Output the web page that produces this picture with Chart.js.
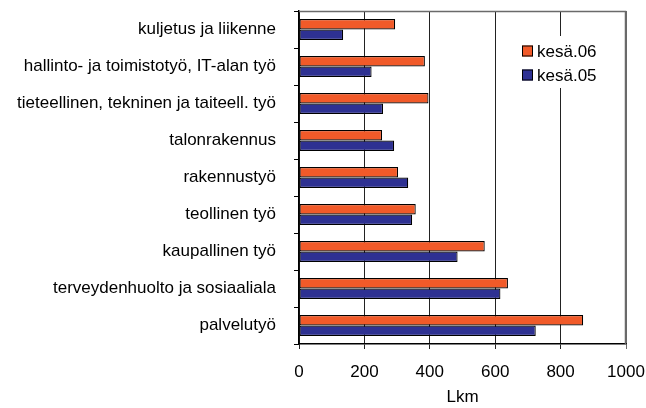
<!DOCTYPE html>
<html>
<head>
<meta charset="utf-8">
<script src="https://cdn.jsdelivr.net/npm/chart.js@4"></script>
<style>
  html, body { margin: 0; padding: 0; background: #fff; }
  #wrap { width: 646px; height: 408px; position: relative; }
</style>
</head>
<body>
<div id="wrap"><canvas id="chart" width="646" height="408"></canvas></div>
<script>
// data
var categories = ['kuljetus ja liikenne', 'hallinto- ja toimistotyö, IT-alan työ',
    'tieteellinen, tekninen ja taiteell. työ', 'talonrakennus', 'rakennustyö',
    'teollinen työ', 'kaupallinen työ', 'terveydenhuolto ja sosiaaliala', 'palvelutyö'];
var series_names = ['kesä.06', 'kesä.05'];
var kesa06 = [294, 385, 396, 254, 303, 357, 568, 639, 869];
var kesa05 = [135, 222, 257, 291, 334, 346, 485, 616, 724];
var x_ticks = [0, 200, 400, 600, 800, 1000];

var orange = '#F15A29';
var blue = '#2E3192';
var font = 'Arial, "Liberation Sans", sans-serif';

// frame on top and right of plot area
var framePlugin = {
    id: 'frame',
    afterDatasetsDraw: function(chart) {
        var a = chart.chartArea, ctx = chart.ctx;
        ctx.save();
        ctx.strokeStyle = '#6a6a6a';
        ctx.lineWidth = 1.5;
        ctx.beginPath();
        ctx.moveTo(a.left, a.top + 0.5);
        ctx.lineTo(a.right - 0.5, a.top + 0.5);
        ctx.lineTo(a.right - 0.5, a.bottom);
        ctx.stroke();
        ctx.restore();
    }
};

// legend sits inside the plot area, like the original
var innerLegend = {
    id: 'innerLegend',
    afterDraw: function(chart) {
        var ctx = chart.ctx;
        var x = 512, y = 36;
        ctx.save();
        ctx.fillStyle = '#fff';
        ctx.fillRect(x, y, 90, 52);
        ctx.font = '17px ' + font;
        ctx.textBaseline = 'middle';
        chart.data.datasets.forEach(function(ds, i) {
            var cy = y + 15 + i * 24;
            ctx.fillStyle = ds.backgroundColor;
            ctx.fillRect(x + 10, cy - 5.5, 11, 11);
            ctx.strokeStyle = '#000';
            ctx.lineWidth = 1;
            ctx.strokeRect(x + 10.5, cy - 5, 10, 10);
            ctx.fillStyle = '#000';
            ctx.fillText(ds.label, x + 25, cy + 1);
        });
        ctx.restore();
    }
};

new Chart(document.getElementById('chart'), {
    type: 'bar',
    data: {
        labels: categories,
        datasets: [
            { label: series_names[0], data: kesa06, backgroundColor: orange },
            { label: series_names[1], data: kesa05, backgroundColor: blue }
        ]
    },
    options: {
        indexAxis: 'y',
        responsive: false,
        animation: false,
        layout: { padding: { top: 11, right: 20, left: 0, bottom: 0 } },
        datasets: {
            bar: {
                borderColor: '#000',
                borderWidth: 1.2,
                borderSkipped: false,
                categoryPercentage: 0.57,
                barPercentage: 1
            }
        },
        plugins: {
            legend: { display: false },
            tooltip: { enabled: false }
        },
        scales: {
            x: {
                min: 0,
                max: 1000,
                afterBuildTicks: function(s) { s.ticks = x_ticks.map(function(v) { return { value: v }; }); },
                afterFit: function(s) { s.height = 64; s.paddingLeft = 0; s.paddingRight = 0; },
                border: { color: '#000', width: 1.5 },
                grid: {
                    color: function(c) { return c.tick && c.tick.value === 1000 ? '#6a6a6a' : '#222'; },
                    lineWidth: 1,
                    tickLength: 5
                },
                ticks: {
                    color: '#000',
                    font: { family: font, size: 17 },
                    padding: 13,
                    maxRotation: 0,
                    callback: function(v) { return String(v); }
                },
                title: {
                    display: true,
                    text: 'Lkm',
                    color: '#000',
                    font: { family: font, size: 17 },
                    padding: { top: 0, bottom: 0 }
                }
            },
            y: {
                afterFit: function(s) { s.width = 299; s.paddingTop = 0; s.paddingBottom = 0; },
                border: { color: '#000', width: 1.5 },
                grid: {
                    offset: true,
                    drawOnChartArea: false,
                    color: '#000',
                    tickLength: 5
                },
                ticks: {
                    color: '#000',
                    font: { family: font, size: 17 },
                    padding: 18
                }
            }
        }
    },
    plugins: [framePlugin, innerLegend]
});
</script>
</body>
</html>
